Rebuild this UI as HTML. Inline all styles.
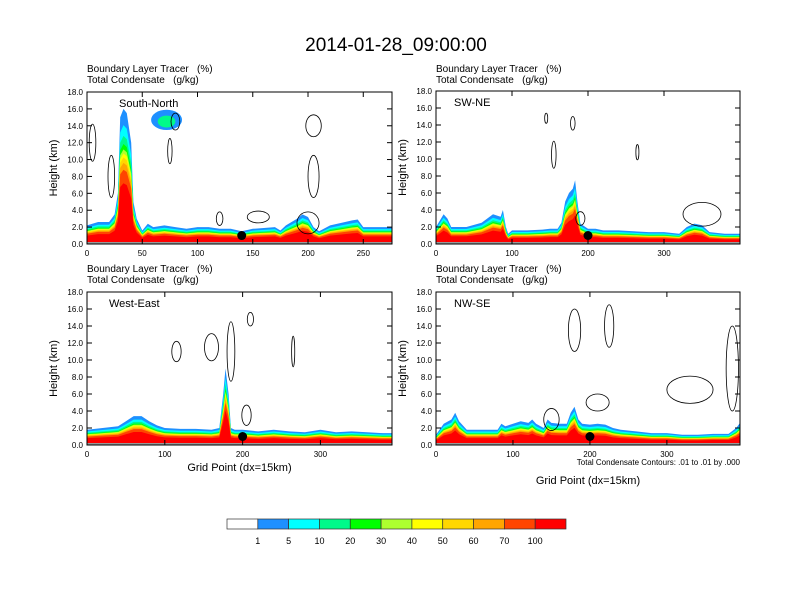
<!DOCTYPE html>
<html><head><meta charset="utf-8"><style>
body{margin:0;background:#fff}
svg{display:block;font-family:"Liberation Sans",sans-serif}
text{white-space:pre}
</style></head><body>
<svg id="chart" width="792" height="612" viewBox="0 0 792 612">
<text x="396" y="51" text-anchor="middle" font-size="19">2014-01-28_09:00:00</text>
</svg>
<script>
// ---- data ----
const levelLabels = ["1","5","10","20","30","40","50","60","70","100"];
const levelColors = ["#ffffff","#1e90ff","#00ffff","#00fa8a","#00ff00","#adff2f","#ffff00","#ffd700","#ffa500","#ff4500","#ff0000"];
const panelTitles = ["South-North","SW-NE","West-East","NW-SE"];
const yTicks = [0,2,4,6,8,10,12,14,16,18];
const xTicksSN = [0,50,100,150,200,250];
const xTicksOther = [0,100,200,300];
const xSN = [0,10,20,25,28,30,33,36,40,42,45,50,55,60,70,80,90,100,110,120,130,140,150,160,170,175,180,190,195,200,205,210,220,230,240,245,250,260,276];
const hSN = [2.2,2.6,2.6,3.5,6,15,16,15.5,12,5,3,1.6,2.4,2.0,2.2,2.0,1.8,2.0,2.0,1.8,1.8,1.5,1.8,1.9,2.0,1.6,2.2,3.0,3.5,3.2,2.0,1.5,2.2,2.5,2.8,2.9,2.0,2.0,2.0];
const xSW = [0,10,15,20,40,60,75,85,88,92,95,100,120,140,150,160,165,170,175,180,183,186,190,200,210,220,240,260,280,300,320,330,340,350,360,380,400];
const hSW = [2.0,3.5,3.0,2.0,2.0,2.5,3.5,3.2,4.0,2.0,1.2,1.6,1.6,1.7,1.8,1.8,2.5,5,6,6.5,7.5,5,2.4,1.8,1.8,1.6,1.6,1.5,1.4,1.4,1.2,2.0,2.4,2.2,1.4,1.2,1.2];
const xWE = [0,20,40,50,60,70,80,90,100,120,140,160,170,175,178,182,185,190,200,220,240,260,280,300,320,340,360,380,392];
const hWE = [1.8,2.0,2.2,2.8,3.4,3.4,2.8,2.3,2.0,1.9,1.9,1.8,2.0,6,9,6,2.0,1.8,1.8,1.6,1.8,1.6,1.5,1.8,1.5,1.6,1.5,1.4,1.4];
const xNW = [0,10,20,25,30,40,60,80,85,90,100,110,120,125,130,140,145,150,160,170,175,180,185,190,200,210,220,230,240,260,280,300,320,340,360,380,390,395];
const hNW = [1.2,2.5,3,3.8,2.8,1.8,1.8,1.8,2.5,2.2,2.5,2.8,2.6,3.0,2.5,2.0,3.0,2.6,2.5,2.5,3.8,4.5,3.0,2.5,2.4,2.5,2.4,2.0,1.8,1.6,1.4,1.4,1.2,1.2,1.3,1.3,2.0,2.6];
// contour blobs: [x, height, x-radius, height-radius]
const cSN = [[5,12,3,2.2],[22,8,3,2.5],[80,14.5,4,1],[75,11,2,1.5],[205,14,7,1.3],[205,8,5,2.5],[155,3.2,10,0.7],[120,3,3,0.8],[200,2.5,10,1.3]];
const cSW = [[155,10.5,3,1.6],[265,10.8,2,0.9],[145,14.8,2,0.6],[180,14.2,3,0.8],[190,3,6,0.8],[350,3.5,25,1.4]];
const cWE = [[115,11,6,1.2],[160,11.5,9,1.6],[185,11,5,3.5],[210,14.8,4,0.8],[265,11,2,1.8],[205,3.5,6,1.2]];
const cNW = [[180,13.5,8,2.5],[225,14,6,2.5],[330,6.5,30,1.6],[385,9,8,5],[150,3,10,1.3],[210,5,15,1]];
const dotX = [140,200,200,200];

const svg = document.getElementById('chart');
const NS = 'http://www.w3.org/2000/svg';
function mk(tag, attrs, parent){const e=document.createElementNS(NS,tag);for(const k in attrs)e.setAttribute(k,attrs[k]);(parent||svg).appendChild(e);return e;}
const factors=[1,0.88,0.8,0.74,0.7,0.67,0.64,0.6,0.55,0.45];

const panels=[
 {x0:87,x1:392,y0:92,y1:244,xmax:276,xs:xSN,hs:hSN,ticks:xTicksSN,cont:cSN,lx:87,ly:72,xlab:false},
 {x0:436,x1:740,y0:91,y1:244,xmax:400,xs:xSW,hs:hSW,ticks:xTicksOther,cont:cSW,lx:436,ly:72,xlab:false},
 {x0:87,x1:392,y0:292,y1:445,xmax:392,xs:xWE,hs:hWE,ticks:xTicksOther,cont:cWE,lx:87,ly:272,xlab:true,xly:471},
 {x0:436,x1:740,y0:292,y1:445,xmax:395,xs:xNW,hs:hNW,ticks:xTicksOther,cont:cNW,lx:436,ly:272,xlab:true,xly:484,note:true}
];
panels.forEach((p,i)=>{
  const g=mk('g',{});
  
  
  const sx=v=>p.x0+(p.x1-p.x0)*v/p.xmax, sy=v=>p.y1-(p.y1-p.y0)*v/18;
  const clip=mk('clipPath',{id:'cp'+i},g);mk('rect',{x:p.x0,y:p.y0,width:p.x1-p.x0,height:p.y1-p.y0},clip);
  const fg=mk('g',{'clip-path':'url(#cp'+i+')'},g);
  factors.forEach((f,k)=>{
    let d='M'+sx(p.xs[0])+','+sy(0);
    p.xs.forEach((x,j)=>{d+=' L'+sx(x).toFixed(1)+','+sy(p.hs[j]*f).toFixed(1);});
    d+=' L'+sx(p.xs[p.xs.length-1])+','+sy(0)+' Z';
    const a=mk('path',{d:d,fill:levelColors[k+1]},fg);
    
    
  });
  if(i===0){const b=mk('ellipse',{cx:sx(72),cy:sy(14.7),rx:sx(14)-sx(0),ry:(p.y1-p.y0)*1.2/18,fill:'#1e90ff'},fg);
    
    mk('ellipse',{cx:sx(72),cy:sy(14.5),rx:sx(8)-sx(0),ry:(p.y1-p.y0)*0.7/18,fill:'#00fa8a'},fg);}
  p.cont.forEach(c=>{
    const e=mk('ellipse',{cx:sx(c[0]),cy:sy(c[1]),rx:sx(c[2])-sx(0),ry:(p.y1-p.y0)*c[3]/18,fill:'none',stroke:'#000','stroke-width':0.8},fg);
    
    
  });
  mk('line',{x1:p.x0,x2:p.x1,y1:p.y1-1,y2:p.y1-1,stroke:'#999','stroke-width':2},fg);
  const dot=mk('circle',{cx:sx(dotX[i]),cy:sy(1),r:4.5,fill:'#000'},g);
  
  
  const fr=mk('rect',{x:p.x0,y:p.y0,width:p.x1-p.x0,height:p.y1-p.y0,fill:'none',stroke:'#000','stroke-width':1},g);
  
  
  yTicks.forEach(t=>{
    const y=sy(t);
    mk('line',{x1:p.x0,x2:p.x0+5,y1:y,y2:y,stroke:'#000'},g);
    mk('line',{x1:p.x1,x2:p.x1-5,y1:y,y2:y,stroke:'#000'},g);
    const tl=mk('text',{x:p.x0-4,y:y+3,'text-anchor':'end','font-size':8},g);tl.textContent=t.toFixed(1);
    
    
  });
  p.ticks.forEach(t=>{
    const x=sx(t);
    mk('line',{x1:x,x2:x,y1:p.y1,y2:p.y1-5,stroke:'#000'},g);
    mk('line',{x1:x,x2:x,y1:p.y0,y2:p.y0+5,stroke:'#000'},g);
    const tl=mk('text',{x:x,y:p.y1+12,'text-anchor':'middle','font-size':8},g);tl.textContent=t;
    
    
  });
  const yt=mk('text',{x:0,y:0,'text-anchor':'middle','font-size':11,transform:'translate('+(p.x0-30)+','+((p.y0+p.y1)/2)+') rotate(-90)'},g);yt.textContent='Height (km)';
  
  
  const l1=mk('text',{x:p.lx,y:p.ly,'font-size':10},g);l1.textContent='Boundary Layer Tracer   (%)';
  
  
  const l2=mk('text',{x:p.lx,y:p.ly+11,'font-size':10},g);l2.textContent='Total Condensate   (g/kg)';
  
  
  const pt=mk('text',{x:p.x0+(i===0?32:i===2?22:18),y:p.y0+15,'font-size':11},g);pt.textContent=panelTitles[i];
  
  
  if(p.xlab){const xt=mk('text',{x:(p.x0+p.x1)/2,y:p.xly,'text-anchor':'middle','font-size':11},g);xt.textContent='Grid Point (dx=15km)';
    
    }
  if(p.note){const nt=mk('text',{x:p.x1,y:p.y1+20,'text-anchor':'end','font-size':8},g);nt.textContent='Total Condensate Contours: .01 to .01 by .000';
    
    }
});
// colorbar
const cb=mk('g',{});


const cbx=227,cbw=(566-227)/levelColors.length;
levelColors.forEach((c,k)=>{
  const r=mk('rect',{x:cbx+k*cbw,y:519,width:cbw,height:10,fill:c,stroke:'#333','stroke-width':0.7},cb);
  
  
});
levelLabels.forEach((l,k)=>{
  const t=mk('text',{x:cbx+(k+1)*cbw,y:544,'text-anchor':'middle','font-size':9},cb);t.textContent=l;
  
  
});
</script>
</body></html>
